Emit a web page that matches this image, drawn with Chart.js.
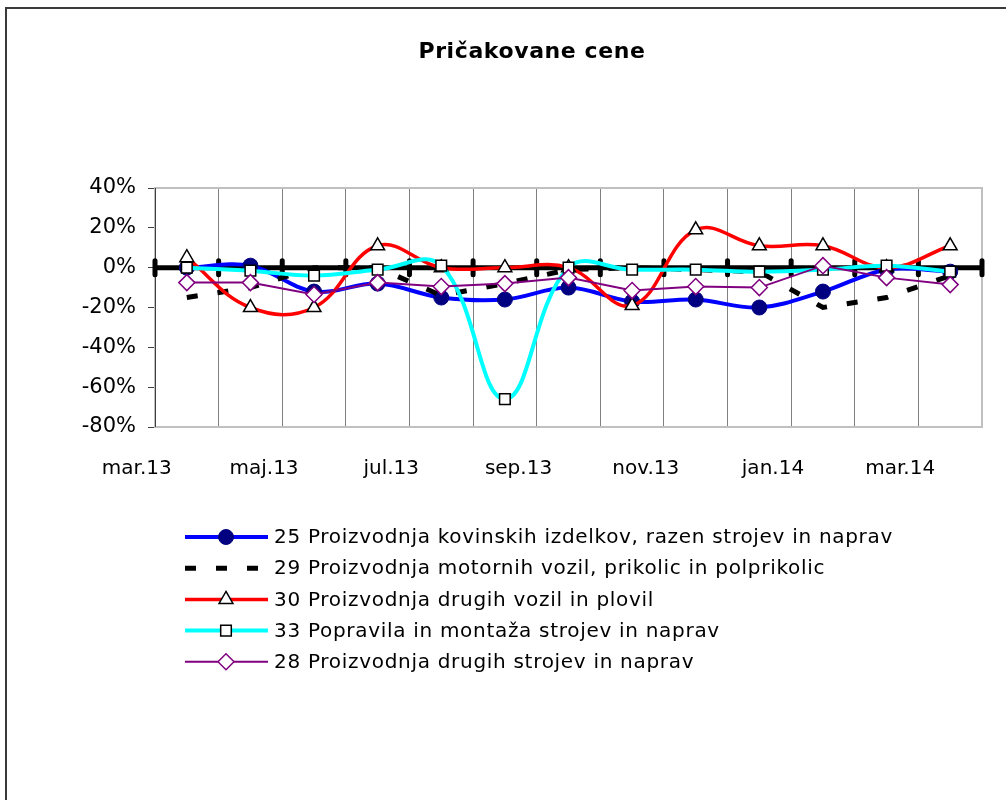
<!DOCTYPE html>
<html>
<head>
<meta charset="utf-8">
<script src="https://cdn.jsdelivr.net/npm/chart.js@4/dist/chart.umd.min.js"></script>
<style>
body { margin: 0; background: #fff; }
#wrap { position: relative; width: 1006px; height: 800px; overflow: hidden; }
#frame { position: absolute; left: 5px; top: 7px; width: 1010px; height: 820px; border: 2px solid #3a3a3a; }
canvas { position: absolute; left: 0; top: 0; }
</style>
</head>
<body>
<div id="wrap">
  <div id="frame"></div>
  <canvas id="myChart" width="1006" height="800"></canvas>
</div>
<script>
// months and values (in %)
const months = ['mar.13','apr.13','maj.13','jun.13','jul.13','avg.13','sep.13','okt.13','nov.13','dec.13','jan.14','feb.14','mar.14'];
const s25 = [0, 1, -12, -8, -15, -16, -10, -17, -16, -20, -12, -1, -2];
const s29 = [-15, -10, 0, 0, -14, -8, -1, 0, -1, -2, -20, -15, -4];
const s30 = [5, -20, -20, 11, 0, 0, 0, -19, 19, 11, 11, 0, 11];
const s33 = [0, -1.5, -4, -1, 1, -66, 0, -1, -1, -2, -1, 1, -2];
const s28 = [-7.5, -7.5, -13.5, -7.5, -9.5, -8, -5, -11.5, -9.5, -10, 1, -5, -8.5];
const names = [
  '25 Proizvodnja kovinskih izdelkov, razen strojev in naprav',
  '29 Proizvodnja motornih vozil, prikolic in polprikolic',
  '30 Proizvodnja drugih vozil in plovil',
  '33 Popravila in montaža strojev in naprav',
  '28 Proizvodnja drugih strojev in naprav'
];
const title = 'Pričakovane cene';

const FONT = 'DejaVu Sans';

// axes frame, zero line with its tick blobs
const axesPlugin = {
  id: 'axesPlugin',
  beforeDatasetsDraw(chart) {
    const ctx = chart.ctx;
    const a = chart.chartArea;
    const x = chart.scales.x;
    const y = chart.scales.y;
    ctx.save();
    ctx.strokeStyle = '#c0c0c0';
    ctx.lineWidth = 2;
    ctx.strokeRect(a.left, a.top, a.right - a.left, a.bottom - a.top);
    ctx.strokeStyle = '#404040';
    ctx.lineWidth = 1;
    ctx.beginPath();
    ctx.moveTo(a.left + 0.5, a.top);
    ctx.lineTo(a.left + 0.5, a.bottom);
    ctx.stroke();

    const y0 = y.getPixelForValue(0);
    ctx.strokeStyle = '#000';
    ctx.lineWidth = 5;
    ctx.beginPath();
    ctx.moveTo(a.left, y0);
    ctx.lineTo(a.right, y0);
    ctx.stroke();
    ctx.lineCap = 'round';
    ctx.lineWidth = 5;
    for (let i = 0; i <= months.length; i++) {
      const gx = x.getPixelForValue(i - 0.5);
      ctx.beginPath();
      ctx.moveTo(gx, y0 - 7);
      ctx.lineTo(gx, y0 + 7);
      ctx.stroke();
    }
    ctx.restore();
  },
  afterDraw(chart) {
    const ctx = chart.ctx;
    ctx.save();
    ctx.fillStyle = '#000';
    ctx.font = 'bold 22px "' + FONT + '"';
    ctx.letterSpacing = '0.6px';
    ctx.textAlign = 'center';
    ctx.textBaseline = 'middle';
    ctx.fillText(title, 532, 52);

    // legend, one row per series
    ctx.font = '20px "' + FONT + '"';
    ctx.letterSpacing = '0.7px';
    ctx.textAlign = 'left';
    chart.data.datasets.forEach((ds, k) => {
      const ly = 537 + k * 31.2;
      ctx.save();
      ctx.strokeStyle = ds.borderColor;
      ctx.lineWidth = ds.borderWidth;
      ctx.setLineDash(ds.borderDash || []);
      ctx.beginPath();
      ctx.moveTo(185, ly);
      ctx.lineTo(268, ly);
      ctx.stroke();
      ctx.restore();
      if (ds.pointRadius > 0) {
        ctx.save();
        ctx.fillStyle = ds.pointBackgroundColor;
        ctx.strokeStyle = ds.pointBorderColor;
        ctx.lineWidth = ds.pointBorderWidth;
        Chart.helpers.drawPoint(ctx, {
          pointStyle: ds.pointStyle, rotation: 0,
          radius: ds.pointRadius, borderWidth: ds.pointBorderWidth
        }, 226, ly);
        ctx.restore();
      }
      ctx.fillStyle = '#000';
      ctx.fillText(names[k], 274, ly + 1);
    });
    ctx.restore();
  }
};

const ctx = document.getElementById('myChart');

new Chart(ctx, {
  type: 'line',
  data: {
    labels: months,
    datasets: [
      {
        label: names[0], data: s25, order: 5,
        borderColor: '#0000ff', borderWidth: 4, tension: 0.35,
        pointStyle: 'circle', pointRadius: 7.5,
        pointBackgroundColor: '#000080', pointBorderColor: '#000080', pointBorderWidth: 1
      },
      {
        label: names[1], data: s29, order: 4,
        borderColor: '#000000', borderWidth: 5, borderDash: [11, 20], tension: 0,
        pointRadius: 0
      },
      {
        label: names[2], data: s30, order: 3,
        borderColor: '#ff0000', borderWidth: 3.5, tension: 0.4,
        pointStyle: 'triangle', pointRadius: 8,
        pointBackgroundColor: '#ffffff', pointBorderColor: '#000000', pointBorderWidth: 1.5
      },
      {
        label: names[3], data: s33, order: 2,
        borderColor: '#00ffff', borderWidth: 4, tension: 0.4,
        pointStyle: 'rect', pointRadius: 7.5,
        pointBackgroundColor: '#ffffff', pointBorderColor: '#000000', pointBorderWidth: 1.5
      },
      {
        label: names[4], data: s28, order: 1,
        borderColor: '#800080', borderWidth: 2, tension: 0,
        pointStyle: 'rectRot', pointRadius: 8,
        pointBackgroundColor: '#ffffff', pointBorderColor: '#800080', pointBorderWidth: 1.5
      }
    ]
  },
  options: {
    responsive: false,
    animation: false,
    layout: { padding: { top: 188, right: 24, bottom: 313, left: 0 } },
    plugins: {
      legend: { display: false },
      title: { display: false },
      tooltip: { enabled: false }
    },
    scales: {
      x: {
        offset: true,
        grid: { offset: true, color: '#808080', lineWidth: 1, drawTicks: false },
        border: { display: false },
        ticks: {
          autoSkip: false, maxRotation: 0, padding: 30, labelOffset: -50,
          color: '#000', font: { family: FONT, size: 20 },
          callback: (v, i) => (i % 2 === 0 ? months[i] : '')
        },
        afterFit(s) { s.height = 60; s.paddingLeft = 0; s.paddingRight = 0; }
      },
      y: {
        min: -80, max: 40,
        ticks: {
          stepSize: 20, padding: 12, color: '#000',
          font: { family: FONT, size: 21 },
          callback: v => v + '%'
        },
        grid: { drawOnChartArea: false, drawTicks: true, tickLength: 7, color: '#404040' },
        border: { display: false },
        afterFit(s) { s.width = 155; }
      }
    }
  },
  plugins: [axesPlugin]
});
</script>
</body>
</html>
